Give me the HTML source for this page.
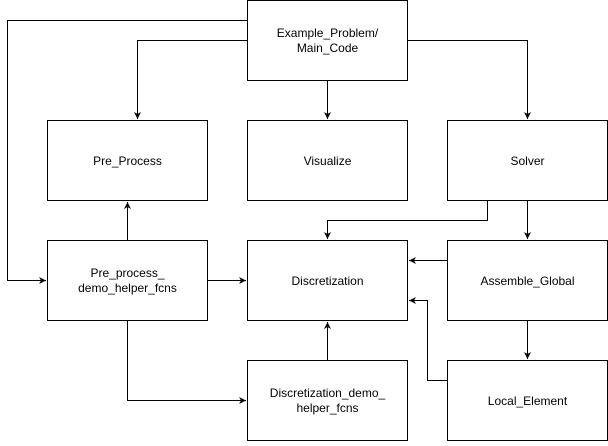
<!DOCTYPE html>
<html><head><style>body{margin:0;background:#fff}</style></head><body>
<svg width="608" height="441" xmlns="http://www.w3.org/2000/svg" font-family="Liberation Sans, Arial, sans-serif" font-size="12">
<defs><marker id="a" markerWidth="8" markerHeight="8" refX="7" refY="4" orient="auto" markerUnits="userSpaceOnUse"><path d="M0,0.5 L7,4 L0,7.5 L2,4 Z" fill="#000"/></marker></defs>
<g fill="#fff" stroke="#000" stroke-width="1">
<rect x="247.5" y="0.5" width="160" height="80"/>
<rect x="47.5" y="120.5" width="160" height="80"/>
<rect x="247.5" y="120.5" width="160" height="80"/>
<rect x="447.5" y="120.5" width="160" height="80"/>
<rect x="47.5" y="240.5" width="160" height="80"/>
<rect x="247.5" y="240.5" width="160" height="80"/>
<rect x="447.5" y="240.5" width="160" height="80"/>
<rect x="247.5" y="360.5" width="160" height="80"/>
<rect x="447.5" y="360.5" width="160" height="80"/>
</g>
<g fill="none" stroke="#000" stroke-width="1" marker-end="url(#a)">
<path d="M247.5,20.5H7.5V280.5H46"/>
<path d="M247.5,40.5H137.5V119"/>
<path d="M327.5,80.5V119"/>
<path d="M407.5,40.5H527.5V119"/>
<path d="M487.5,200.5V220.5H327.5V239"/>
<path d="M527.5,200.5V239"/>
<path d="M447.5,260.5H409"/>
<path d="M447.5,380.5H427.5V300.5H409"/>
<path d="M527.5,320.5V359"/>
<path d="M327.5,360.5V322"/>
<path d="M127.5,240.5V202"/>
<path d="M207.5,280.5H246"/>
<path d="M127.5,320.5V400.5H246"/>
</g>
<g text-anchor="middle" fill="#000">
<text x="327.5" y="37">Example_Problem/</text>
<text x="327.5" y="52">Main_Code</text>
<text x="127.5" y="165">Pre_Process</text>
<text x="327.5" y="165">Visualize</text>
<text x="527.5" y="165">Solver</text>
<text x="127.5" y="277">Pre_process_</text>
<text x="127.5" y="292">demo_helper_fcns</text>
<text x="327.5" y="285">Discretization</text>
<text x="527.5" y="285">Assemble_Global</text>
<text x="327.5" y="397">Discretization_demo_</text>
<text x="327.5" y="412">helper_fcns</text>
<text x="527.5" y="405">Local_Element</text>
</g>
</svg>
</body></html>
